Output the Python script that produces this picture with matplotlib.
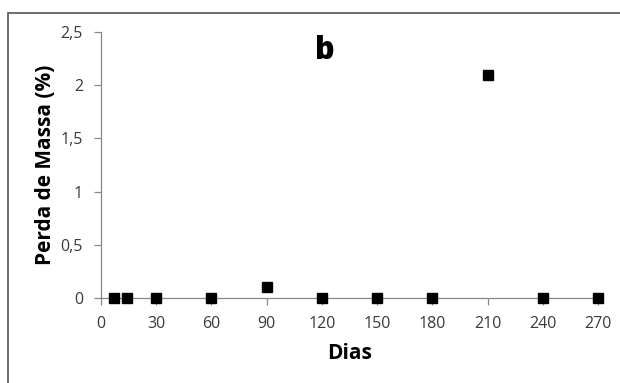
import matplotlib.pyplot as plt
from matplotlib.patches import Rectangle

dias = [7, 14, 30, 60, 90, 120, 150, 180, 210, 240, 270]
perda = [0, 0, 0, 0, 0.1, 0, 0, 0, 2.1, 0, 0]
xticks = [0, 30, 60, 90, 120, 150, 180, 210, 240, 270]
yticks = [0, 0.5, 1, 1.5, 2, 2.5]
ylabels = ["0", "0,5", "1", "1,5", "2", "2,5"]

W, H = 620, 383
fig = plt.figure(figsize=(W / 100, H / 100), dpi=100)
fig.patches.append(Rectangle((8 / W, -0.1), 1.1, 1 - 13 / H + 0.1,
                             transform=fig.transFigure, fill=False,
                             edgecolor="#555555", linewidth=1.2))

ax = fig.add_axes([101 / W, 1 - 298 / H, (598 - 101) / W, (298 - 32) / H])
ax.plot(dias, perda, "s", color="black", markersize=7.5, clip_on=False, zorder=3)

ax.set_xlim(0, 270)
ax.set_ylim(0, 2.5)
ax.set_xticks(xticks)
ax.set_yticks(yticks)
ax.set_yticklabels(ylabels)

for s in ["top", "right"]:
    ax.spines[s].set_visible(False)
for s in ["left", "bottom"]:
    ax.spines[s].set_color("#888888")
    ax.spines[s].set_linewidth(0.9)
ax.tick_params(colors="#888888", length=5, width=0.9, direction="out",
               labelcolor="#3a3a3a", labelsize=11.5, pad=8)
for lab in ax.get_xticklabels() + ax.get_yticklabels():
    lab.set_family("Open Sans")

ax.set_xlabel("Dias", fontsize=15, fontweight="bold", family="Open Sans", labelpad=8)
ax.set_ylabel("Perda de Massa (%)", fontsize=15, fontweight="bold", family="Open Sans", labelpad=3)
ax.text(0.45, 0.93, "b", transform=ax.transAxes, fontsize=22, fontweight="heavy",
        family="Open Sans", ha="center", va="center")

fig.savefig("out.png", dpi=100)
